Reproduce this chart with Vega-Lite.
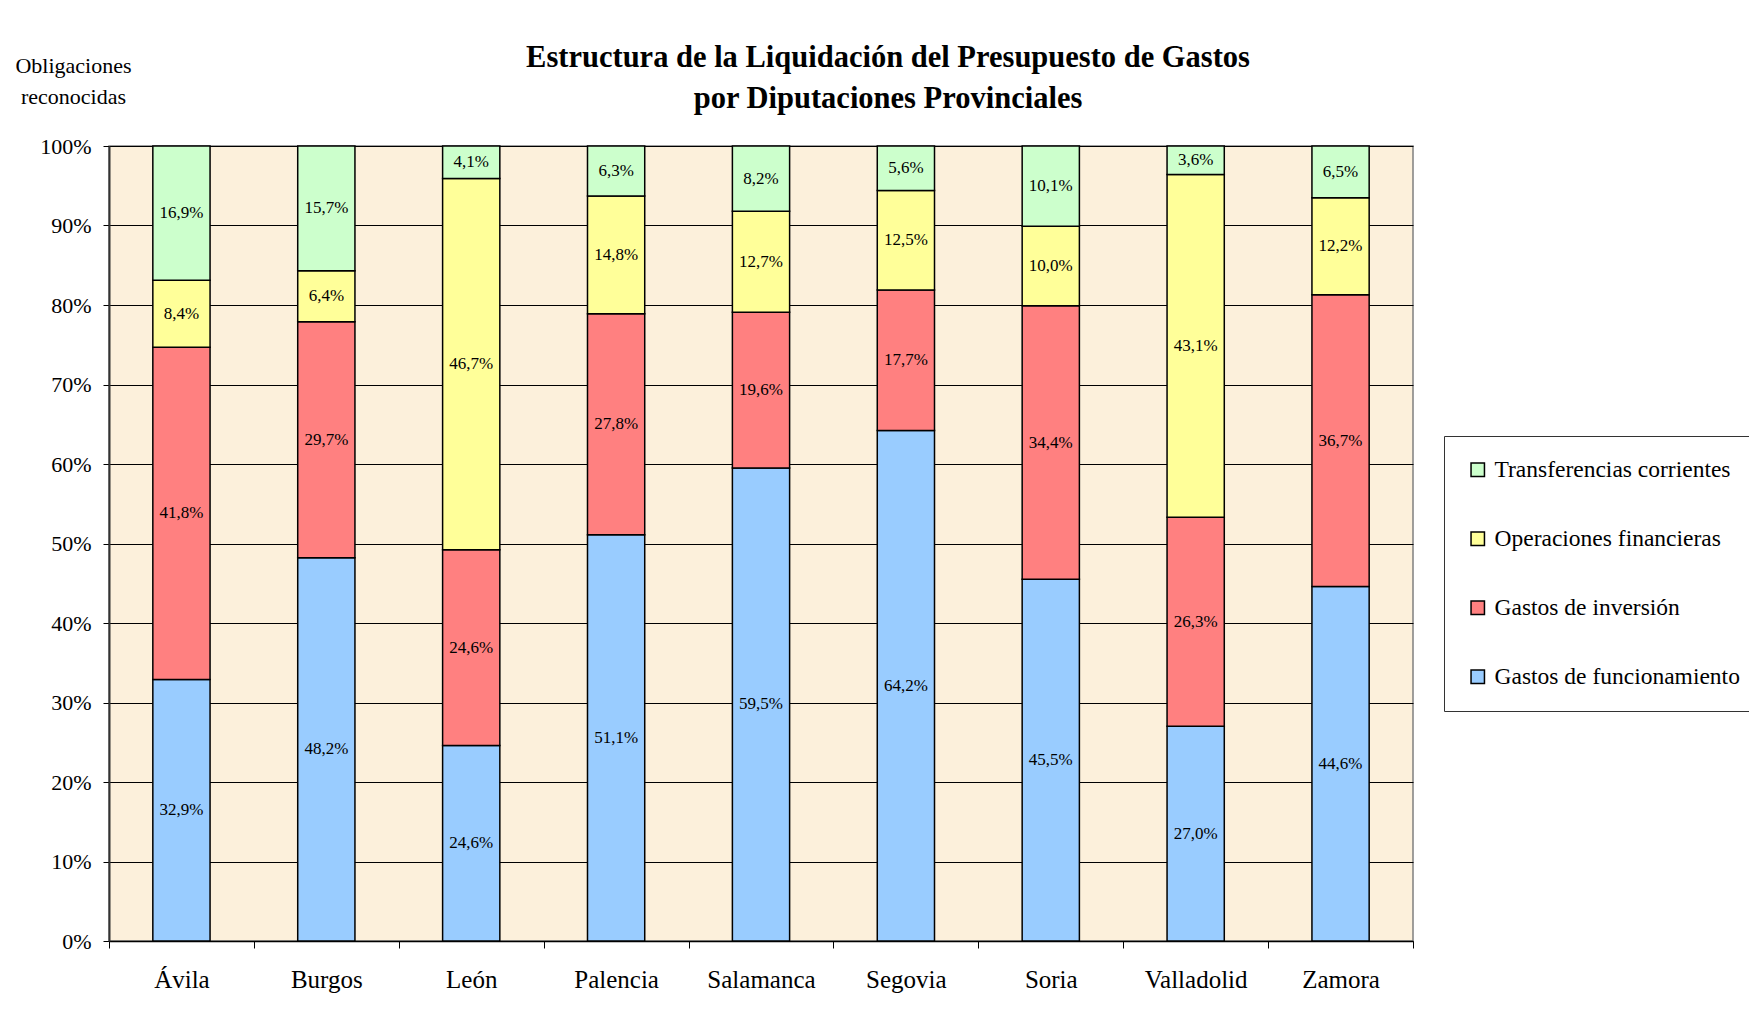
{
  "$schema": "https://vega.github.io/schema/vega-lite/v6.json",
  "width": 1304,
  "height": 795,
  "autosize": {"type": "none"},
  "padding": {"left": 109, "top": 146, "right": 336, "bottom": 73},
  "background": "white",
  "config": {
    "locale": {"number": {"decimal": ",", "thousands": ".", "grouping": [3], "currency": ["", " €"]}},
    "font": "Liberation Serif",
    "view": {"fill": "#FCF0DB", "stroke": "#808080", "strokeWidth": 1.5}
  },
  "title": {
    "text": ["Estructura de la Liquidación del Presupuesto de Gastos", "por Diputaciones Provinciales"],
    "font": "Liberation Serif",
    "fontSize": 30.5,
    "fontWeight": "bold",
    "lineHeight": 41,
    "anchor": "middle",
    "frame": "group",
    "dx": 127,
    "dy": 72,
    "offset": 12,
    "color": "black"
  },
  "data": {
    "values": [
      {"prov": "Ávila", "cat": "Gastos de funcionamiento", "v": 0.329},
      {"prov": "Ávila", "cat": "Gastos de inversión", "v": 0.418},
      {"prov": "Ávila", "cat": "Operaciones financieras", "v": 0.084},
      {"prov": "Ávila", "cat": "Transferencias corrientes", "v": 0.169},
      {"prov": "Burgos", "cat": "Gastos de funcionamiento", "v": 0.482},
      {"prov": "Burgos", "cat": "Gastos de inversión", "v": 0.297},
      {"prov": "Burgos", "cat": "Operaciones financieras", "v": 0.064},
      {"prov": "Burgos", "cat": "Transferencias corrientes", "v": 0.157},
      {"prov": "León", "cat": "Gastos de funcionamiento", "v": 0.246},
      {"prov": "León", "cat": "Gastos de inversión", "v": 0.246},
      {"prov": "León", "cat": "Operaciones financieras", "v": 0.467},
      {"prov": "León", "cat": "Transferencias corrientes", "v": 0.041},
      {"prov": "Palencia", "cat": "Gastos de funcionamiento", "v": 0.511},
      {"prov": "Palencia", "cat": "Gastos de inversión", "v": 0.278},
      {"prov": "Palencia", "cat": "Operaciones financieras", "v": 0.148},
      {"prov": "Palencia", "cat": "Transferencias corrientes", "v": 0.063},
      {"prov": "Salamanca", "cat": "Gastos de funcionamiento", "v": 0.595},
      {"prov": "Salamanca", "cat": "Gastos de inversión", "v": 0.196},
      {"prov": "Salamanca", "cat": "Operaciones financieras", "v": 0.127},
      {"prov": "Salamanca", "cat": "Transferencias corrientes", "v": 0.082},
      {"prov": "Segovia", "cat": "Gastos de funcionamiento", "v": 0.642},
      {"prov": "Segovia", "cat": "Gastos de inversión", "v": 0.177},
      {"prov": "Segovia", "cat": "Operaciones financieras", "v": 0.125},
      {"prov": "Segovia", "cat": "Transferencias corrientes", "v": 0.056},
      {"prov": "Soria", "cat": "Gastos de funcionamiento", "v": 0.455},
      {"prov": "Soria", "cat": "Gastos de inversión", "v": 0.344},
      {"prov": "Soria", "cat": "Operaciones financieras", "v": 0.100},
      {"prov": "Soria", "cat": "Transferencias corrientes", "v": 0.101},
      {"prov": "Valladolid", "cat": "Gastos de funcionamiento", "v": 0.270},
      {"prov": "Valladolid", "cat": "Gastos de inversión", "v": 0.263},
      {"prov": "Valladolid", "cat": "Operaciones financieras", "v": 0.431},
      {"prov": "Valladolid", "cat": "Transferencias corrientes", "v": 0.036},
      {"prov": "Zamora", "cat": "Gastos de funcionamiento", "v": 0.446},
      {"prov": "Zamora", "cat": "Gastos de inversión", "v": 0.367},
      {"prov": "Zamora", "cat": "Operaciones financieras", "v": 0.122},
      {"prov": "Zamora", "cat": "Transferencias corrientes", "v": 0.065}
    ]
  },
  "transform": [
    {"calculate": "indexof(['Gastos de funcionamiento','Gastos de inversión','Operaciones financieras','Transferencias corrientes'], datum.cat)", "as": "ord"},
    {"stack": "v", "groupby": ["prov"], "sort": [{"field": "ord", "order": "ascending"}], "as": ["v0", "v1"]},
    {"calculate": "(datum.v0 + datum.v1) / 2", "as": "mid"}
  ],
  "encoding": {
    "x": {
      "field": "prov",
      "type": "nominal",
      "sort": ["Ávila", "Burgos", "León", "Palencia", "Salamanca", "Segovia", "Soria", "Valladolid", "Zamora"],
      "scale": {"paddingInner": 0, "paddingOuter": 0},
      "axis": {
        "title": null,
        "labelAngle": 0,
        "labelFont": "Liberation Serif",
        "labelFontSize": 25,
        "labelColor": "black",
        "labelPadding": 19,
        "ticks": true,
        "tickBand": "extent",
        "tickSize": 7,
        "tickColor": "black",
        "tickWidth": 1,
        "domain": true,
        "domainColor": "black",
        "domainWidth": 1.5,
        "grid": false
      }
    }
  },
  "layer": [
    {
      "mark": {"type": "bar", "width": {"band": 0.395}, "stroke": "black", "strokeWidth": 1.5},
      "encoding": {
        "y": {
          "field": "v0",
          "type": "quantitative",
          "scale": {"domain": [0, 1], "nice": false},
          "axis": {
            "format": ".0%",
            "values": [0, 0.1, 0.2, 0.3, 0.4, 0.5, 0.6, 0.7, 0.8, 0.9, 1],
            "title": ["Obligaciones", "reconocidas"],
            "titleAngle": 0,
            "titleAlign": "center",
            "titleBaseline": "alphabetic",
            "titleX": -36,
            "titleY": -74,
            "titleFont": "Liberation Serif",
            "titleFontSize": 22,
            "titleFontWeight": "normal",
            "titleLineHeight": 31,
            "titleColor": "black",
            "labelFont": "Liberation Serif",
            "labelFontSize": 22,
            "labelColor": "black",
            "labelPadding": 12,
            "tickSize": 6,
            "tickColor": "black",
            "domainColor": "#333333",
            "domainWidth": 2,
            "grid": true,
            "gridColor": "black",
            "gridWidth": 1,
            "gridOpacity": 1
          }
        },
        "y2": {"field": "v1"},
        "color": {
          "field": "cat",
          "type": "nominal",
          "scale": {
            "domain": ["Transferencias corrientes", "Operaciones financieras", "Gastos de inversión", "Gastos de funcionamiento"],
            "range": ["#CCFFCC", "#FFFF99", "#FF8080", "#99CCFF"]
          },
          "legend": {
            "title": null,
            "orient": "none",
            "legendX": 1335,
            "legendY": 290,
            "padding": 22,
            "fillColor": "white",
            "strokeColor": "#333333",
            "symbolType": "square",
            "symbolSize": 180,
            "symbolStrokeColor": "black",
            "symbolStrokeWidth": 1.5,
            "symbolOpacity": 1,
            "labelFont": "Liberation Serif",
            "labelFontSize": 23.5,
            "labelColor": "black",
            "labelOffset": 5,
            "labelLimit": 400,
            "rowPadding": 44
          }
        }
      }
    },
    {
      "mark": {"type": "text", "font": "Liberation Serif", "fontSize": 17, "color": "black", "baseline": "middle", "align": "center"},
      "encoding": {
        "y": {"field": "mid", "type": "quantitative"},
        "text": {"field": "v", "type": "quantitative", "format": ".1%"}
      }
    }
  ]
}
